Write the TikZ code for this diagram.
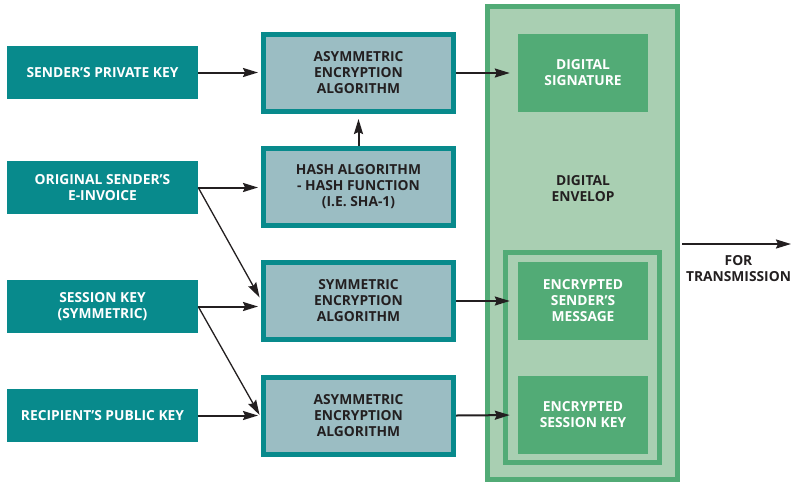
\documentclass[tikz,border=0pt]{standalone}
\usepackage{fontspec}
\setmainfont{Open Sans}
\usetikzlibrary{arrows.meta}
\definecolor{tealbox}{HTML}{088A8C}
\definecolor{greyblue}{HTML}{9BBDC3}
\definecolor{greenedge}{HTML}{52AB76}
\definecolor{greenlight}{HTML}{A9CFB2}
\definecolor{darktext}{HTML}{231F20}
\tikzset{
  keybox/.style={fill=tealbox,text=white,minimum width=191,minimum height=53,align=center,inner sep=0},
  algobox/.style={draw=tealbox,line width=5,fill=greyblue,text=darktext,minimum width=190,minimum height=77,align=center,inner sep=0},
  envbox/.style={draw=greenedge,line width=5,fill=greenlight},
  greenbox/.style={fill=greenedge,text=white,minimum width=130,minimum height=78,align=center,inner sep=0},
  flow/.style={draw=darktext,line width=2,-{Stealth[length=15,width=9,inset=2]}},
  thinflow/.style={draw=darktext,line width=1.3,-{Stealth[length=15,width=9,inset=2]}}
}
\begin{document}
\begin{tikzpicture}[x=1pt,y=-1pt,font=\bfseries\fontsize{13.8}{16}\selectfont]
   \useasboundingbox (0,0) rectangle (791,483);

   % envelope and group
   \node[envbox,minimum width=190,minimum height=473] (env) at (582.5,243) {};
   \node[envbox,minimum width=154,minimum height=210] (grp) at (582.5,357.5) {};
   \node[text=darktext,align=center] (envlabel) at (583,189) {DIGITAL\\ENVELOP};

   % inputs
   \node[keybox] (privkey) at (102.5,72.5) {SENDER'S PRIVATE KEY};
   \node[keybox] (invoice) at (102.5,187.5) {ORIGINAL SENDER'S\\E-INVOICE};
   \node[keybox] (seskey) at (102.5,306.5) {SESSION KEY\\(SYMMETRIC)};
   \node[keybox] (pubkey) at (102.5,415.5) {RECIPIENT'S PUBLIC KEY};

   % algorithms
   \node[algobox] (asymtop) at (358.5,73) {ASYMMETRIC\\ENCRYPTION\\ALGORITHM};
   \node[algobox] (hash) at (358.5,187) {HASH ALGORITHM\\- HASH FUNCTION\\(I.E. SHA-1)};
   \node[algobox] (sym) at (358.5,301) {SYMMETRIC\\ENCRYPTION\\ALGORITHM};
   \node[algobox] (asymbot) at (358.5,415.5) {ASYMMETRIC\\ENCRYPTION\\ALGORITHM};

   % outputs
   \node[greenbox] (sig) at (583,73) {DIGITAL\\SIGNATURE};
   \node[greenbox] (encmsg) at (583,301) {ENCRYPTED\\SENDER'S\\MESSAGE};
   \node[greenbox] (enckey) at (583,415) {ENCRYPTED\\SESSION KEY};

   \coordinate (out) at (791,244);
   \node[text=darktext,align=center] (forlabel) at (738.5,269) {FOR\\TRANSMISSION};

   % connectors
   \draw[flow,shorten >=3] (privkey.east) -- (privkey.east -| asymtop.west);
   \draw[flow,shorten >=3] (invoice.east) -- (invoice.east -| hash.west);
   \draw[flow,shorten >=3] (seskey.east) -- (seskey.east -| sym.west);
   \draw[flow,shorten >=3] (pubkey.east) -- (pubkey.east -| asymbot.west);
   \draw[thinflow,shorten >=3] (invoice.east) -- ([yshift=1]sym.west);
   \draw[thinflow,shorten >=3] (seskey.east) -- ([yshift=-2]asymbot.west);
   \draw[flow,shorten >=5] (hash.north) -- (asymtop.south);
   \draw[flow,shorten >=8] (asymtop.east) -- (sig.west);
   \draw[flow,shorten >=8] (sym.east) -- (encmsg.west);
   \draw[flow,shorten >=8] (asymbot.east) -- (enckey.west);
   \draw[flow,shorten <=2] (env.east |- out) -- (out);
\end{tikzpicture}
\end{document}
